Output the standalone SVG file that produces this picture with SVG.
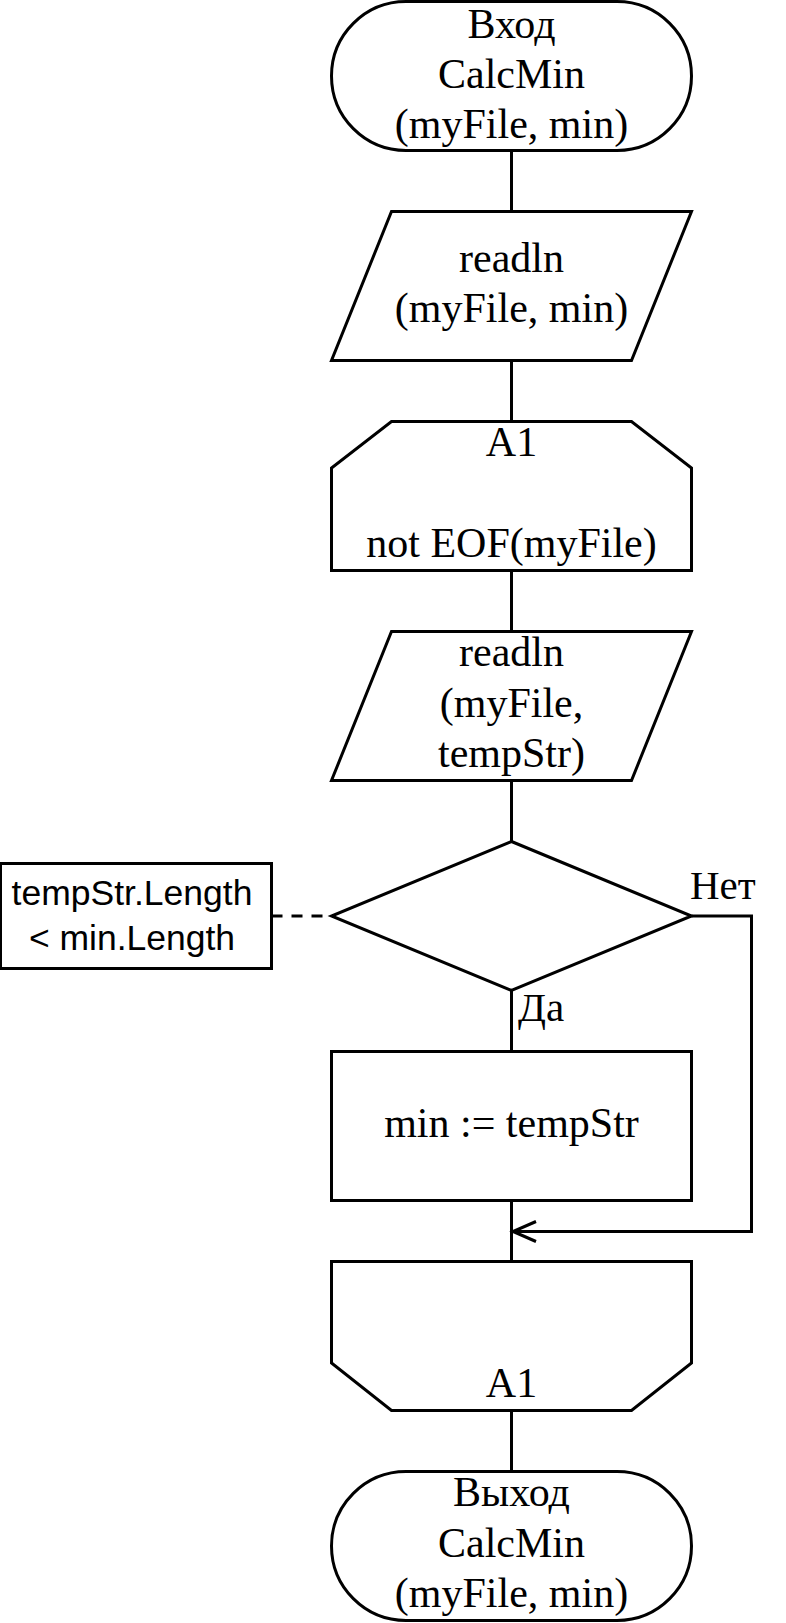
<svg xmlns="http://www.w3.org/2000/svg" width="786" height="1623" viewBox="0 0 786 1623">
  <style>
    .shape { fill: #ffffff; stroke: #000000; stroke-width: 3; }
    .conn { fill: none; stroke: #000000; stroke-width: 3; }
    .dash { fill: none; stroke: #000000; stroke-width: 3; stroke-dasharray: 11 9; }
    .t { font-family: "Liberation Serif", "Times New Roman", serif; font-size: 42px; fill: #000000; text-anchor: middle; }
    .lbl { font-family: "Liberation Serif", "Times New Roman", serif; font-size: 41px; fill: #000000; text-anchor: start; }
    .s { font-family: "Liberation Sans", Arial, sans-serif; font-size: 35.5px; fill: #000000; text-anchor: middle; }
  </style>
  <defs>
    <marker id="arrow" viewBox="-26 -13 30 26" refX="0" refY="0" markerWidth="30" markerHeight="26" markerUnits="userSpaceOnUse" orient="auto">
      <path d="M-23,-10 L0,0 L-23,10" fill="none" stroke="#000000" stroke-width="3"/>
    </marker>
  </defs>

  <g id="connectors">
    <line class="conn" x1="511.5" y1="150.5" x2="511.5" y2="211.5"/>
    <line class="conn" x1="511.5" y1="360.5" x2="511.5" y2="421.5"/>
    <line class="conn" x1="511.5" y1="570.5" x2="511.5" y2="631.5"/>
    <line class="conn" x1="511.5" y1="780.5" x2="511.5" y2="841.5"/>
    <line class="conn" x1="511.5" y1="990.5" x2="511.5" y2="1051.5"/>
    <line class="conn" x1="511.5" y1="1200.5" x2="511.5" y2="1261.5"/>
    <line class="conn" x1="511.5" y1="1410.5" x2="511.5" y2="1471.5"/>
    <polyline class="conn" points="691.5,916 751.5,916 751.5,1231.5 513,1231.5" marker-end="url(#arrow)"/>
    <line class="dash" x1="271.5" y1="916" x2="331.5" y2="916"/>
    <text class="lbl" x="690" y="899">Нет</text>
    <text class="lbl" x="518" y="1021">Да</text>
  </g>

  <g id="start">
    <rect class="shape" x="331.5" y="1.5" width="360" height="149" rx="74.5" ry="74.5"/>
    <text class="t" x="511.5" y="37.5">Вход</text>
    <text class="t" x="511.5" y="87.5">CalcMin</text>
    <text class="t" x="511.5" y="137.5">(myFile, min)</text>
  </g>

  <g id="input1">
    <polygon class="shape" points="391.5,211.5 691.5,211.5 631.5,360.5 331.5,360.5"/>
    <text class="t" x="511.5" y="272">readln</text>
    <text class="t" x="511.5" y="322">(myFile, min)</text>
  </g>

  <g id="loopStart">
    <polygon class="shape" points="391.5,421.5 631.5,421.5 691.5,468 691.5,570.5 331.5,570.5 331.5,468"/>
    <text class="t" x="511.5" y="456">A1</text>
    <text class="t" x="511.5" y="557">not EOF(myFile)</text>
  </g>

  <g id="input2">
    <polygon class="shape" points="391.5,631.5 691.5,631.5 631.5,780.5 331.5,780.5"/>
    <text class="t" x="511.5" y="666">readln</text>
    <text class="t" x="511.5" y="716.5">(myFile,</text>
    <text class="t" x="511.5" y="766.5">tempStr)</text>
  </g>

  <g id="decision">
    <polygon class="shape" points="511.5,841.5 691.5,916 511.5,990.5 331.5,916"/>
  </g>

  <g id="comment">
    <rect class="shape" x="0.5" y="863.5" width="271" height="105"/>
    <text class="s" x="132" y="905">tempStr.Length</text>
    <text class="s" x="132" y="950">&lt; min.Length</text>
  </g>

  <g id="assign">
    <rect class="shape" x="331.5" y="1051.5" width="360" height="149"/>
    <text class="t" x="511.5" y="1137">min := tempStr</text>
  </g>

  <g id="loopEnd">
    <polygon class="shape" points="331.5,1261.5 691.5,1261.5 691.5,1363 631.5,1410.5 391.5,1410.5 331.5,1363"/>
    <text class="t" x="511.5" y="1397">A1</text>
  </g>

  <g id="end">
    <rect class="shape" x="331.5" y="1471.5" width="360" height="149" rx="74.5" ry="74.5"/>
    <text class="t" x="511.5" y="1505.5">Выход</text>
    <text class="t" x="511.5" y="1556.5">CalcMin</text>
    <text class="t" x="511.5" y="1606.5">(myFile, min)</text>
  </g>
</svg>
